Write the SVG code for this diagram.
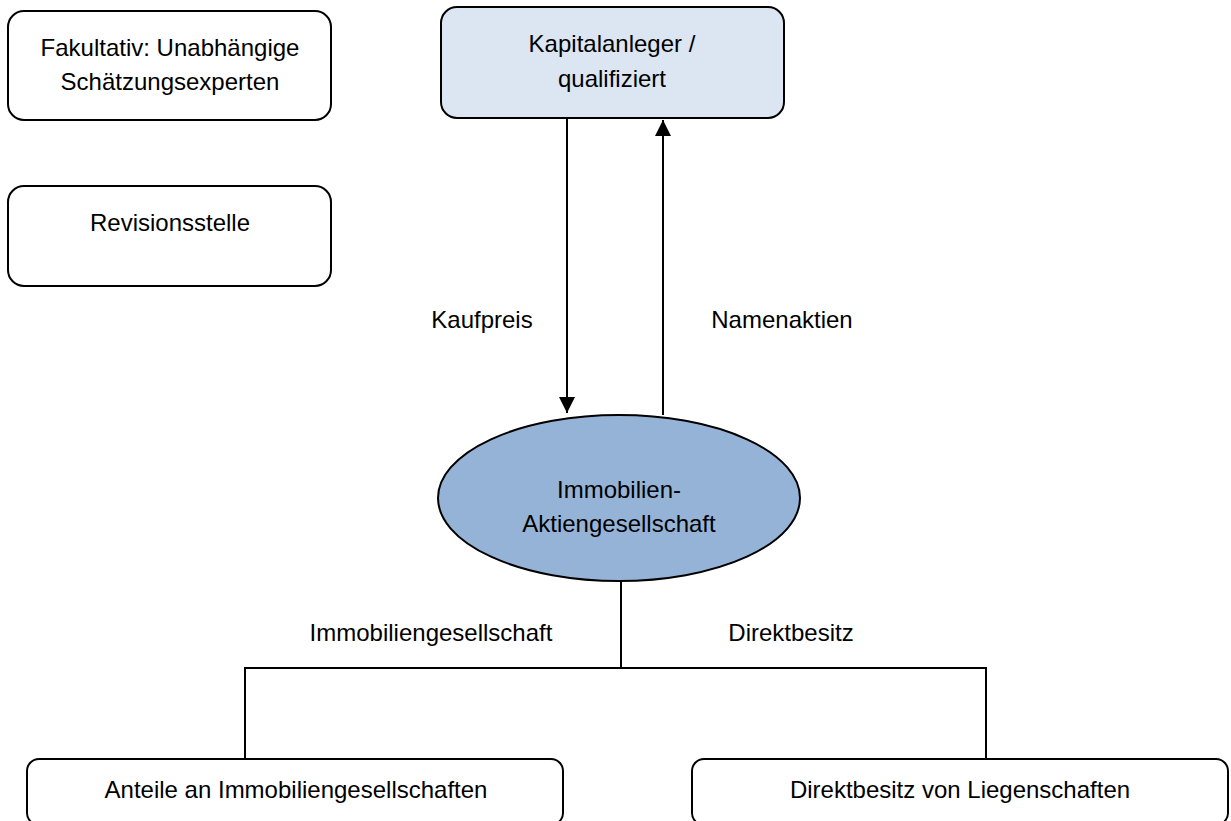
<svg xmlns="http://www.w3.org/2000/svg" width="1231" height="821" viewBox="0 0 1231 821">
<defs>
<style>
text{font-family:"Liberation Sans",Arial,sans-serif;font-size:24px;fill:#000;text-anchor:middle}
.box{fill:#fff;stroke:#000;stroke-width:2}
.ln{stroke:#000;stroke-width:2;fill:none}
</style>
<marker id="ah2" markerWidth="16" markerHeight="16" refX="16" refY="8" orient="auto" markerUnits="userSpaceOnUse"><path d="M0,0 L16,8 L0,16 z" fill="#000"/></marker>
</defs>
<g id="connectors">
<line class="ln" x1="567" y1="118" x2="567" y2="413" marker-end="url(#ah2)"/>
<line class="ln" x1="663" y1="415" x2="663" y2="120" marker-end="url(#ah2)"/>
<line class="ln" x1="621" y1="581" x2="621" y2="668"/>
<polyline class="ln" points="245,759 245,668 986,668 986,759"/>
<text x="482" y="328">Kaufpreis</text>
<text x="782" y="328">Namenaktien</text>
<text x="431" y="641">Immobiliengesellschaft</text>
<text x="791" y="641">Direktbesitz</text>
</g>
<g id="n-fakultativ">
<rect class="box" x="8" y="11" width="323" height="109" rx="16"/>
<text x="170" y="56">Fakultativ: Unabhängige</text>
<text x="170" y="90">Schätzungsexperten</text>
</g>
<g id="n-revision">
<rect class="box" x="8" y="186" width="323" height="100" rx="16"/>
<text x="170" y="231">Revisionsstelle</text>
</g>
<g id="n-kapital">
<rect class="box" style="fill:#dce6f2" x="441" y="7" width="343" height="111" rx="16"/>
<text x="612" y="52">Kapitalanleger /</text>
<text x="612" y="87">qualifiziert</text>
</g>
<g id="n-immo">
<ellipse cx="619" cy="498" rx="181" ry="83" fill="#95b3d7" stroke="#000" stroke-width="2"/>
<text x="619" y="498">Immobilien-</text>
<text x="619" y="532">Aktiengesellschaft</text>
</g>
<g id="n-anteile">
<rect class="box" x="27" y="759" width="536" height="66" rx="12"/>
<text x="296" y="798">Anteile an Immobiliengesellschaften</text>
</g>
<g id="n-direkt">
<rect class="box" x="692" y="759" width="536" height="66" rx="12"/>
<text x="960" y="798">Direktbesitz von Liegenschaften</text>
</g>
</svg>
